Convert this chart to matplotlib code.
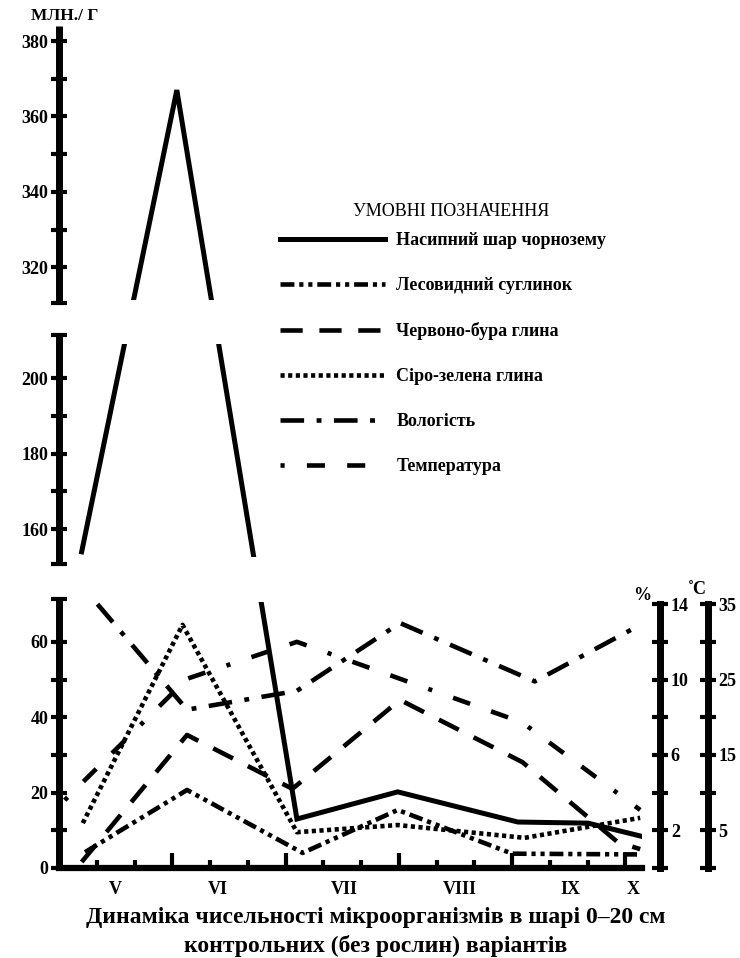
import numpy as np
import matplotlib
matplotlib.use("Agg")
import matplotlib.pyplot as plt

plt.rcParams['font.family'] = ['Liberation Serif', 'DejaVu Serif']
plt.rcParams['font.weight'] = 'bold'
plt.rcParams['lines.scale_dashes'] = False

# --- data (x in months from start of May) ---
months = ['V', 'VI', 'VII', 'VIII', 'IX', 'X']
month_pos = [0.50, 1.40, 2.52, 3.54, 4.51, 5.07]

chern_x = [0.20, 1.04, 2.10, 2.99, 4.05, 4.67, 5.13]      # млн./г
chern_y = [154, 367, 13, 20.2, 12.2, 11.9, 8.5]
les_x = [0.23, 1.13, 2.15, 2.99, 4.00, 5.13]
les_y = [4.2, 20.7, 4.0, 15.4, 3.8, 3.6]
cherv_x = [0.20, 1.13, 2.06, 3.01, 4.09, 4.93, 5.13]
cherv_y = [1.6, 35.3, 21.0, 44.6, 28.1, 6.9, 5.0]
siro_x = [0.21, 1.09, 2.10, 2.99, 4.11, 5.13]
siro_y = [11.9, 64.5, 9.5, 11.4, 8.0, 13.3]
vol_x = [0.34, 1.13, 2.10, 3.01, 4.20, 5.13]             # %
vol_y = [14.0, 8.4, 9.4, 13.0, 9.9, 12.9]
temp_x = [0.05, 1.13, 2.10, 3.01, 4.09, 5.13]            # °C
temp_y = [9.0, 25.1, 30.0, 25.1, 19.3, 7.7]

labels = ['Насипний шар чорнозему', 'Лесовидний суглинок', 'Червоно-бура глина',
          'Сіро-зелена глина', 'Вологість', 'Температура']

left_major = [0, 20, 40, 60, 160, 180, 200, 320, 340, 360, 380]
left_minor = [10, 30, 50, 71.5, 150.7, 170, 190, 211.5, 310.4, 330, 350, 370]

# broken y axis: three pieces with the same scale, gaps squeezed
brk_v = [-1000, 71.5, 150.7, 211.5, 310.4, 10000]
brk_s = [-1000, 71.5, 80.6, 141.4, 149.8, 9839.4]
segments = [(0, 71.5), (150.7, 211.5), (310.4, 384)]


def fwd(v):
    return np.interp(v, brk_v, brk_s)


def inv(s):
    return np.interp(s, brk_s, brk_v)


W, H = 740, 958
fig = plt.figure(figsize=(W / 100, H / 100), dpi=100)
L, R, B, T = 59 / W, 642 / W, (H - 868) / H, (H - 26) / H
ax = fig.add_axes([L, B, R - L, T - B])
ax.set_yscale('function', functions=(fwd, inv))
ax.set_xlim(0, 5.146)
ax.set_ylim(0, 384)

lw = 3.3
lA, = ax.plot(chern_x, chern_y, color='k', lw=3.6, solid_joinstyle='miter')
lB, = ax.plot(les_x, les_y, color='k', lw=lw, ls=(0, (10, 3.5, 3, 3.5, 3, 3.5)))
lC, = ax.plot(cherv_x, cherv_y, color='k', lw=lw, ls=(0, (16, 12)))
lF, = ax.plot(siro_x, siro_y, color='k', lw=lw, ls=(0, (3, 2.5)))

# white gaps of the broken axis
ax.axhspan(70.5, 152.5, color='white', lw=0, zorder=2.5)
ax.axhspan(209, 311.2, color='white', lw=0, zorder=2.5)

for lo, hi in segments:
    ax.plot([0, 0], [lo, hi], transform=ax.get_yaxis_transform(), color='k', lw=5,
            solid_capstyle='butt', clip_on=False, zorder=4)

for s in ['left', 'top', 'right']:
    ax.spines[s].set_visible(False)
ax.spines['bottom'].set_linewidth(4.5)
ax.yaxis.set_zorder(5)

ax.set_yticks(left_major)
ax.set_yticks(left_minor, minor=True)
ax.set_yticklabels([str(v) for v in left_major])
ax.yaxis.set_minor_formatter(plt.NullFormatter())
ax.tick_params(axis='y', which='both', direction='inout', length=11.5, width=3,
               labelsize=13, pad=2)

ax.set_xticks([1, 2, 3, 4, 5])
ax.set_xticks([k / 3 for k in range(1, 16) if k % 3], minor=True)
ax.tick_params(axis='x', which='major', direction='in', length=11, width=3, labelbottom=False)
ax.tick_params(axis='x', which='minor', direction='in', length=6, width=3)

for m, p in zip(months, month_pos):
    ax.text(p, -0.025, m, transform=ax.get_xaxis_transform(), ha='center', va='center',
            fontsize=13)

# right axes (humidity %, temperature °C) over the lower piece only
low_h = (T - B) * float(fwd(70)) / float(fwd(384))
ax2 = fig.add_axes([L, B, R - L, low_h])
ax3 = fig.add_axes([L, B, R - L, low_h])
for a, lim, pos, maj, mnr in [(ax2, 14, 1.031, [2, 6, 10, 14], [0, 4, 8, 12]),
                              (ax3, 35, 1.113, [5, 15, 25, 35], [0, 10, 20, 30])]:
    a.set_xlim(ax.get_xlim())
    a.set_ylim(0, lim)
    a.patch.set_visible(False)
    for s in ['left', 'top', 'bottom']:
        a.spines[s].set_visible(False)
    a.spines['right'].set_position(('axes', pos))
    a.spines['right'].set_linewidth(5)
    a.set_xticks([])
    a.yaxis.set_ticks_position('right')
    a.set_yticks(maj)
    a.set_yticks(mnr, minor=True)
    a.yaxis.set_minor_formatter(plt.NullFormatter())
    a.tick_params(axis='y', which='both', direction='inout', length=11.5, width=3,
                  labelsize=13, pad=2)

lD, = ax2.plot(vol_x, vol_y, color='k', lw=lw, ls=(0, (17, 9, 3.5, 9)), clip_on=False)
lE, = ax3.plot(temp_x, temp_y, color='k', lw=lw, ls=(0, (3, 16, 13, 16, 13, 16)), clip_on=False)

fig.text(642 / W, 1 - 596 / H, '%', ha='center', va='center', fontsize=13)
fig.text(697 / W, 1 - 590 / H, '˚C', ha='center', va='center', fontsize=13)
fig.text(65 / W, 1 - 16 / H, 'МЛН./ Г', ha='center', va='center', fontsize=12.5)

# legend
fig.text(451 / W, 1 - 212 / H, 'УМОВНІ ПОЗНАЧЕННЯ', ha='center', va='center',
         fontsize=13, fontweight='normal')
leg = ax.legend([lA, lB, lC, lF, lD, lE], labels, loc='upper left',
                bbox_to_anchor=(280 / W, 1 - 232 / H), bbox_transform=fig.transFigure,
                frameon=False, prop={'family': 'Liberation Serif', 'weight': 'bold', 'size': 13},
                handlelength=5.8, handletextpad=0.65, labelspacing=1.55,
                borderpad=0, borderaxespad=0)
leg.set_zorder(6)

fig.text(376 / W, 1 - 917 / H, 'Динаміка чисельності мікроорганізмів в шарі 0–20 см',
         ha='center', va='center', fontsize=17)
fig.text(376 / W, 1 - 946 / H, 'контрольних (без рослин) варіантів',
         ha='center', va='center', fontsize=17)

fig.savefig('out.png', dpi=100, facecolor='white')
